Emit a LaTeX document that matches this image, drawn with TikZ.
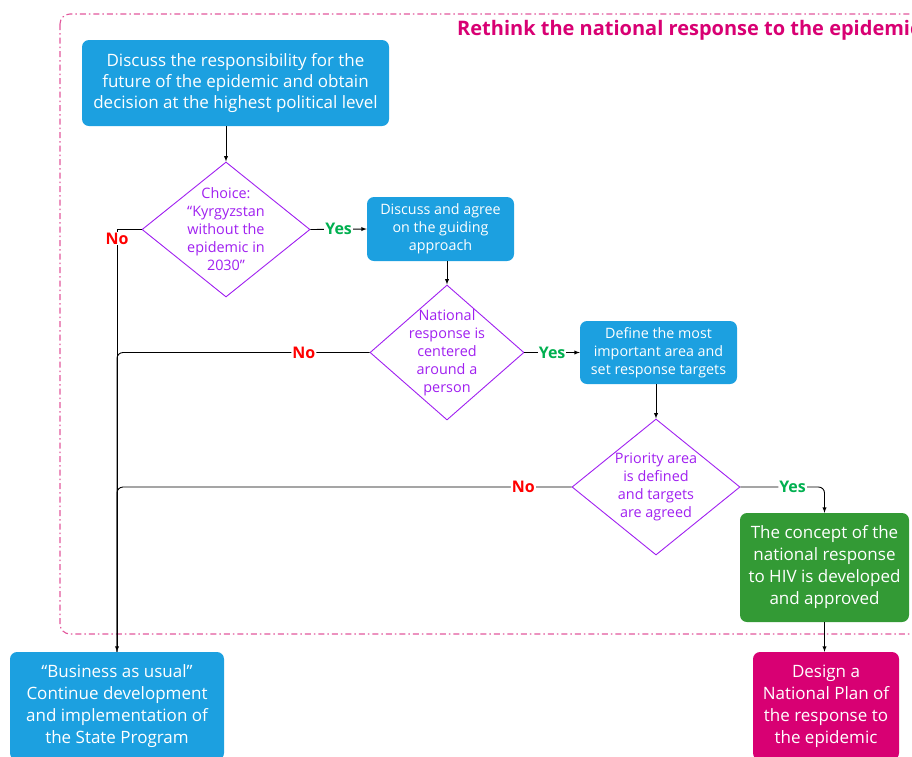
\documentclass[tikz,border=0pt]{standalone}
\usepackage{fontspec}
\setmainfont{Open Sans}
\usepackage{tikz}
\tikzset{>=latex}
\usetikzlibrary{shapes.geometric}
\definecolor{stepblue}{HTML}{1CA0E0}
\definecolor{stepgreen}{HTML}{339A35}
\definecolor{stepmagenta}{HTML}{D80073}
\definecolor{askpurple}{HTML}{A020F0}
\definecolor{yesgreen}{HTML}{00B050}
\definecolor{framepink}{HTML}{E2589C}
\tikzset{
  stepbox/.style={rectangle, rounded corners=7pt, fill=stepblue, text=white,
    align=center, inner sep=0pt, font=\fontsize{17}{22}\selectfont},
  smallstep/.style={stepbox, font=\fontsize{14.3}{18}\selectfont},
  ask/.style={diamond, draw=askpurple, line width=0.9pt, inner sep=0pt},
  asktext/.style={text=askpurple, align=center, inner sep=0pt,
    font=\fontsize{14.4}{18}\selectfont},
  yes/.style={fill=white, inner sep=1pt, text=yesgreen,
    font=\bfseries\fontsize{16}{16}\selectfont},
  no/.style={yes, text=red},
  flow/.style={->, line width=0.9pt},
  noline/.style={line width=0.9pt, rounded corners=6pt}
}
\begin{document}
\begin{tikzpicture}[x=1pt, y=-1pt]
  \useasboundingbox (0,0) rectangle (912,756);
  \draw[framepink, line width=1.1pt, rounded corners=10pt,
    dash pattern=on 6pt off 3pt on 1.5pt off 3pt] (60,14) rectangle (990,634);
  \node[anchor=base west, text=stepmagenta, inner sep=0pt,
    font=\bfseries\fontsize{20}{24}\selectfont] (title) at (457,35)
    {Rethink the national response to the epidemic};

  \node[stepbox, font=\fontsize{17}{21}\selectfont, minimum width=307pt, minimum height=86pt] (resp) at (235.5,83)
    {Discuss the responsibility for the\\future of the epidemic and obtain\\decision at the highest political level};
  \node[ask, minimum width=168pt, minimum height=135pt] (choice) at (226,229.5) {};
  \node[asktext] (choicetext) at (choice) {Choice:\\“Kyrgyzstan\\without the\\epidemic in\\2030”};
  \node[smallstep, minimum width=147pt, minimum height=64pt] (guide) at (440.5,229)
    {Discuss and agree\\on the guiding\\approach};
  \node[ask, minimum width=154pt, minimum height=135pt] (person) at (447,352.5) {};
  \node[asktext] (persontext) at (person) {National\\response is\\centered\\around a\\person};
  \node[smallstep, minimum width=157pt, minimum height=63pt] (targets) at (658.5,352.5)
    {Define the most\\important area and\\set response targets};
  \node[ask, minimum width=168pt, minimum height=136pt] (agreed) at (656,487) {};
  \node[asktext] (agreedtext) at (agreed) {Priority area\\is defined\\and targets\\are agreed};
  \node[stepbox, fill=stepgreen, minimum width=169pt, minimum height=109pt] (concept) at (824.5,567.5)
    {The concept of the\\national response\\to HIV is developed\\and approved};
  \node[stepbox, fill=stepmagenta, minimum width=146pt, minimum height=108pt] (plan) at (826,706)
    {Design a\\National Plan of\\the response to\\the epidemic};
  \node[stepbox, minimum width=214pt, minimum height=108pt] (usual) at (117,706)
    {“Business as usual”\\Continue development\\and implementation of\\the State Program};

  \draw[flow] (resp.south -| choice) -- (choice.north);
  \draw[flow] (choice.east) -- node[yes] (yes1) {Yes} (guide.west);
  \draw[flow] (guide.south -| person) -- (person.north);
  \draw[flow] (person.east) -- node[yes] (yes2) {Yes} (targets.west);
  \draw[flow] (targets.south -| agreed) -- (agreed.north);
  \draw[flow, rounded corners=6pt] (agreed.east) -| node[yes, pos=0.31] (yes3) {Yes} (concept.north);
  \draw[flow] (concept.south) -- (concept.south |- plan.north);

  \draw[flow] (choice.west) -| node[no, pos=0.5, yshift=-9pt] (no1) {No} (usual.north);
  \draw[noline] (person.west) -| node[no, pos=0.13] (no2) {No} (usual.north);
  \draw[noline] (agreed.west) -| node[no, pos=0.053] (no3) {No} (usual.north);
\end{tikzpicture}
\end{document}
